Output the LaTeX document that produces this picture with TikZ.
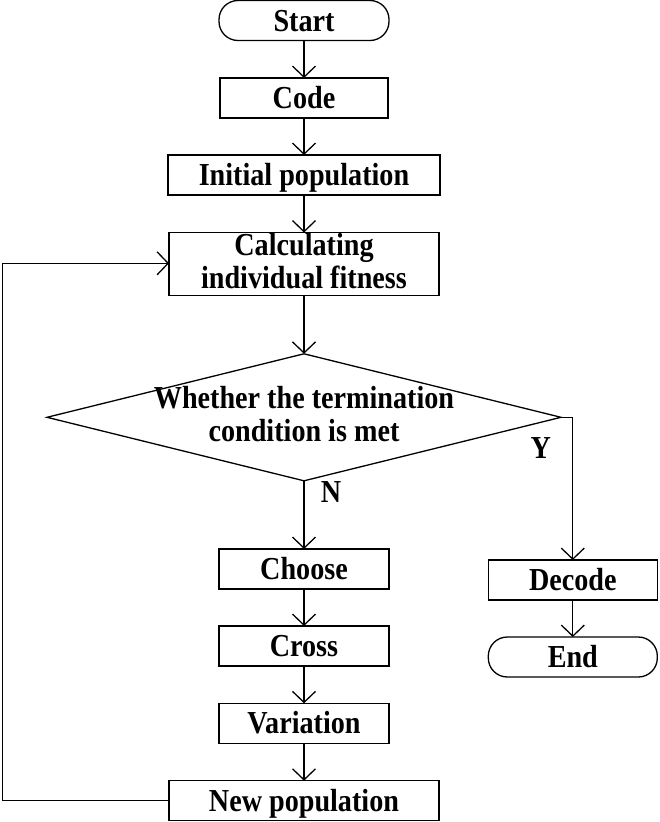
\documentclass[tikz,border=0pt]{standalone}
\usepackage{fontspec}
\setmainfont{Liberation Serif}[FakeStretch=0.88]
\usetikzlibrary{arrows.meta,shapes.geometric}
\begin{document}
\begin{tikzpicture}[x=1pt,y=-1pt,
  line width=1.3pt,
  every node/.style={font=\fontsize{32}{33}\selectfont\bfseries},
  box/.style={draw, rectangle, minimum height=40pt, inner sep=0pt, outer sep=0pt, text height=21pt, text depth=0pt, align=center},
  term/.style={box, rounded corners=19pt},
  arr/.style={-{Straight Barb[length=11pt,width=23pt,line width=1.3pt]}},
  lbl/.style={inner sep=0pt}
]
\useasboundingbox (0,0) rectangle (659,822);
\node[term, minimum width=170pt] (start) at (304,20.5) {Start};
\node[box, minimum width=168pt] (code) at (304,98) {Code};
\node[box, minimum width=272pt] (init) at (304,175) {Initial population};
\node[box, minimum width=270pt, minimum height=63pt, text height=48pt, text depth=0pt] (calc) at (304,264) {Calculating\\individual fitness};
\node[diamond, draw, minimum width=514pt, minimum height=127pt, inner sep=0pt, outer sep=0pt] (dec) at (304,417.3) {};
\node[align=center, inner sep=0pt, text height=48pt, text depth=0pt] (dectext) at (304,417.3) {Whether the termination\\condition is met};
\node[box, minimum width=170pt] (choose) at (304,569) {Choose};
\node[box, minimum width=170pt] (cross) at (304,646) {Cross};
\node[box, minimum width=170pt] (var) at (304,723.3) {Variation};
\node[box, minimum width=270pt] (newpop) at (304,800.7) {New population};
\node[box, minimum width=169pt] (decode) at (572.8,580) {Decode};
\node[term, minimum width=169pt] (end) at (572.8,657) {End};
\node[lbl] (ylab) at (540.7,448) {Y};
\node[lbl] (nlab) at (331,492) {N};
\coordinate (ycorner) at (572.8,417.3);
\coordinate (lbot) at (2.3,800.7);
\coordinate (ltop) at (2.3,263.3);

\draw[arr] (start) -- (code);
\draw[arr] (code) -- (init);
\draw[arr] (init) -- (calc);
\draw[arr] (calc) -- (dec.north);
\draw[arr] (dec.south) -- (choose);
\draw[arr] (choose) -- (cross);
\draw[arr] (cross) -- (var);
\draw[arr] (var) -- (newpop);
\draw[arr] (dec.east) -- (ycorner) -- (decode);
\draw[arr] (decode) -- (end);
\draw[arr] (newpop.west) -- (lbot) -- (ltop) -- (calc.west |- ltop);
\end{tikzpicture}
\end{document}
